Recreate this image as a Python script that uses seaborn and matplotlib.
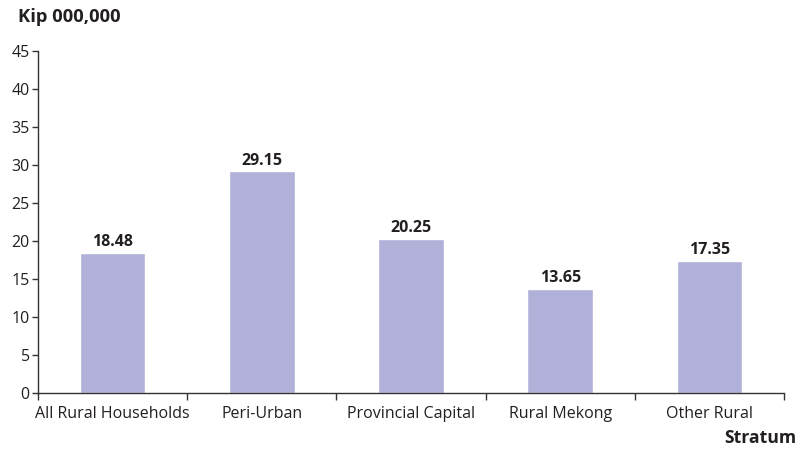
import matplotlib
matplotlib.use("Agg")
import matplotlib.pyplot as plt
import seaborn as sns
import pandas as pd
from matplotlib.ticker import FixedLocator

strata = ["All Rural Households", "Peri-Urban", "Provincial Capital",
          "Rural Mekong", "Other Rural"]
income = [18.48, 29.15, 20.25, 13.65, 17.35]

df = pd.DataFrame({"Stratum": strata, "Kip": income})

sns.set_style("white")
plt.rcParams["font.family"] = ["Open Sans", "DejaVu Sans"]

fig = plt.figure(figsize=(7.97, 4.49), dpi=100)
ax = fig.add_axes([0.0477, 0.1247, 0.9360, 0.7617])

sns.barplot(data=df, x="Stratum", y="Kip", color="#b0b0d8",
            saturation=1, width=0.44, ax=ax)

ax.bar_label(ax.containers[0], fmt="%.2f", padding=2,
             fontsize=11.5, fontweight="bold", color="#231f20")

ax.set_ylim(0, 45)
ax.set_xlim(-0.5, len(strata) - 0.5)
ax.set_yticks(range(0, 46, 5))
ax.set_xlabel("")
ax.set_ylabel("")

ax.xaxis.set_minor_locator(FixedLocator([i - 0.5 for i in range(len(strata) + 1)]))
ax.tick_params(axis="x", which="major", bottom=False, length=0, pad=9,
               labelsize=11.5, labelcolor="#231f20")
ax.tick_params(axis="x", which="minor", bottom=True, length=5, width=1,
               color="#333333", direction="out")
ax.tick_params(axis="y", which="major", left=True, length=4, width=1,
               color="#333333", direction="out", labelsize=11.5,
               labelcolor="#231f20", pad=2)

sns.despine(ax=ax, top=True, right=True)
for side in ["left", "bottom"]:
    ax.spines[side].set_color("#333333")
    ax.spines[side].set_linewidth(1)

fig.text(18 / 797, 1 - 17 / 449, "Kip 000,000", fontsize=13.2,
         fontweight="bold", va="center", ha="left", color="#231f20")
fig.text(796 / 797, 1 - 438 / 449, "Stratum", fontsize=12.7,
         fontweight="bold", va="center", ha="right", color="#231f20")

fig.savefig("out.png", dpi=100)
